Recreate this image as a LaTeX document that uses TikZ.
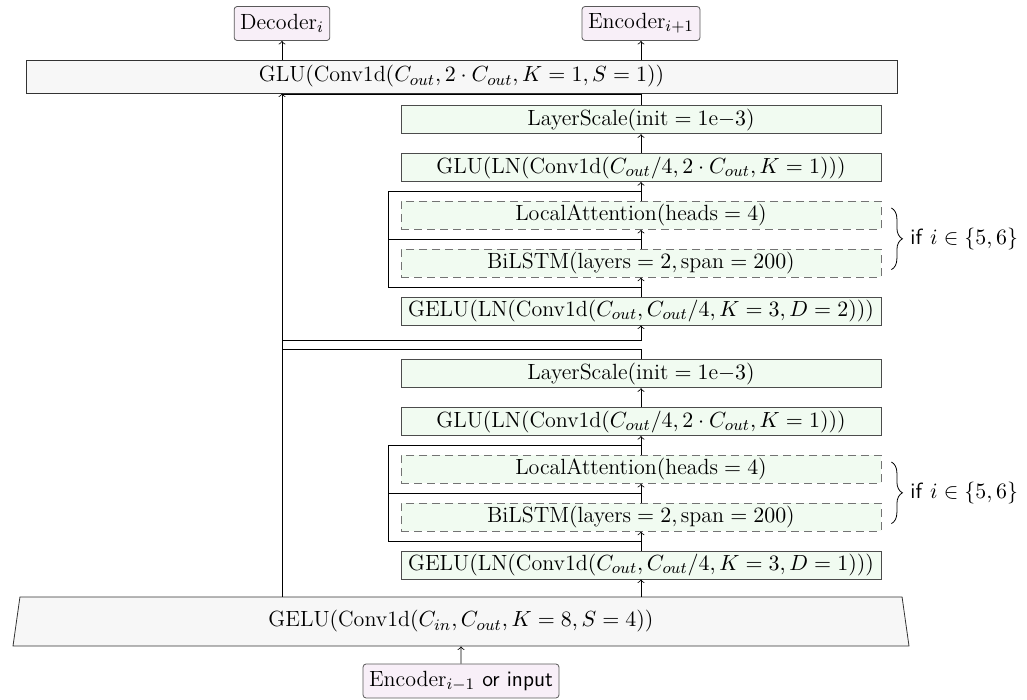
\documentclass[tikz,border=0pt]{standalone}
\usepackage{amsmath}
\usepackage{amssymb}
\usepackage{tikz}
\usetikzlibrary{positioning, shapes.geometric, calc, decorations.pathreplacing}
\definecolor{iofill}{HTML}{F8EFF8}
\definecolor{blockfill}{HTML}{F1FBF1}
\definecolor{stemfill}{HTML}{F7F7F7}

\begin{document}
\begin{tikzpicture}[x=0.5pt, y=-0.5pt, node distance=9.5pt, font=\fontsize{11}{13}\selectfont,
squarednode/.style={rectangle, draw=black!70, fill=blockfill, minimum width=240pt, minimum height=14pt, inner sep=1pt},
dashednode/.style={squarednode, draw=black!55, dash pattern=on 4pt off 2.5pt},
widenode/.style={rectangle, draw=black!80, fill=stemfill, minimum width=435.5pt, minimum height=16.5pt, inner sep=1pt},
stemnode/.style={trapezium, trapezium angle=75, trapezium stretches body, draw=black!80, fill=stemfill, minimum width=448pt, minimum height=24.5pt, inner sep=1pt},
ionode/.style={rectangle, rounded corners=1.5pt, draw=black!65, fill=iofill, minimum height=17pt, inner xsep=3pt},
]
\useasboundingbox (0,0) rectangle (1027,700);

%Nodes
\node[ionode]        (EncoderPrev)   at (461,681)    {Encoder$_{i-1}$ \textsf{or input}};
\node[stemnode]      (stem)          at (461,621.5)  {$\text{GELU}(\text{Conv1d}(C_{in}, C_{out}, K = 8, S = 4))$};
\node[squarednode]   (GELU1)         at (641,565)    {$\text{GELU}(\text{LN}(\text{Conv1d}(C_{out}, C_{out}/4, K = 3, D = 1)))$};
\node[dashednode]    (BiLSTM1)       [above=of GELU1]       {$\text{BiLSTM}(\text{layers} = 2, \text{span} = 200)$};
\node[dashednode]    (Attention1)    [above=of BiLSTM1]     {$\text{LocalAttention}(\text{heads} = 4)$};
\node[squarednode]   (GLU1)          [above=of Attention1]  {$\text{GLU}(\text{LN}(\text{Conv1d}(C_{out}/4, 2 \cdot C_{out}, K = 1)))$};
\node[squarednode]   (LayerScale1)   [above=of GLU1]        {$\text{LayerScale}(\text{init} = 1\text{e}{-}3)$};
\node[squarednode]   (GELU2)         [above=17pt of LayerScale1] {$\text{GELU}(\text{LN}(\text{Conv1d}(C_{out}, C_{out}/4, K = 3, D = 2)))$};
\node[dashednode]    (BiLSTM2)       [above=of GELU2]       {$\text{BiLSTM}(\text{layers} = 2, \text{span} = 200)$};
\node[dashednode]    (Attention2)    [above=of BiLSTM2]     {$\text{LocalAttention}(\text{heads} = 4)$};
\node[squarednode]   (GLU2)          [above=of Attention2]  {$\text{GLU}(\text{LN}(\text{Conv1d}(C_{out}/4, 2 \cdot C_{out}, K = 1)))$};
\node[squarednode]   (LayerScale2)   [above=of GLU2]        {$\text{LayerScale}(\text{init} = 1\text{e}{-}3)$};
\node[widenode]      (Rewrite)       at (461.5,76.5) {$\text{GLU}(\text{Conv1d}(C_{out}, 2 \cdot C_{out}, K = 1, S = 1))$};
\node[ionode]        (Decoder)       at (282,23.5)   {Decoder$_i$};
\node[ionode]        (EncoderNext)   at (641,23.5)   {Encoder$_{i+1}$};

\coordinate (trunk) at (Decoder.south);
\coordinate (inner1) at ([xshift=-6pt]GELU1.west);
\coordinate (inner2) at ([xshift=-6pt]GELU2.west);

%Lines
\draw[->] (EncoderPrev.north) -- (stem.south);
\draw[->] (GELU1.south |- stem.north) -- (GELU1.south);
\draw[->] (GELU1.north) -- (BiLSTM1.south);
\draw[->] (BiLSTM1.north) -- (Attention1.south);
\draw[->] (Attention1.north) -- (GLU1.south);
\draw[->] (GLU1.north) -- (LayerScale1.south);
\draw[->] (GELU2.north) -- (BiLSTM2.south);
\draw[->] (BiLSTM2.north) -- (Attention2.south);
\draw[->] (Attention2.north) -- (GLU2.south);
\draw[->] (GLU2.north) -- (LayerScale2.south);
\draw[->] (Rewrite.north -| Decoder) -- (Decoder.south);
\draw[->] (Rewrite.north -| EncoderNext) -- (EncoderNext.south);

%Skips
\draw[->] (trunk |- stem.north) -- (trunk |- Rewrite.south);
\draw (LayerScale1.north) -- ++(0,5pt) coordinate (join1) -- (join1 -| trunk);
\draw[->] ([yshift=-7.5pt]GELU2.south -| trunk) -| (GELU2.south);
\draw (LayerScale2.north) -- ++(0,5.5pt) coordinate (join2) -- (join2 -| trunk);

\coordinate (a1) at ($(GELU1.north)!.5!(BiLSTM1.south)$);
\coordinate (b1) at ($(BiLSTM1.north)!.5!(Attention1.south)$);
\coordinate (c1) at ($(Attention1.north)!.5!(GLU1.south)$);
\draw (a1) -- (a1 -| inner1) -- (c1 -| inner1) -- (c1);
\draw (b1 -| inner1) -- (b1);
\coordinate (a2) at ($(GELU2.north)!.5!(BiLSTM2.south)$);
\coordinate (b2) at ($(BiLSTM2.north)!.5!(Attention2.south)$);
\coordinate (c2) at ($(Attention2.north)!.5!(GLU2.south)$);
\draw (a2) -- (a2 -| inner2) -- (c2 -| inner2) -- (c2);
\draw (b2 -| inner2) -- (b2);

%Braces
\draw[decorate, decoration={brace, amplitude=5.5pt}] ([xshift=5pt,yshift=-3.5pt]Attention1.north east) -- ([xshift=5pt,yshift=4pt]BiLSTM1.south east) node[midway, right=6pt] {\textsf{if} $i \in \{5, 6\}$};
\draw[decorate, decoration={brace, amplitude=5.5pt}] ([xshift=5pt,yshift=-3.5pt]Attention2.north east) -- ([xshift=5pt,yshift=4pt]BiLSTM2.south east) node[midway, right=6pt] {\textsf{if} $i \in \{5, 6\}$};

\end{tikzpicture}
\end{document}
